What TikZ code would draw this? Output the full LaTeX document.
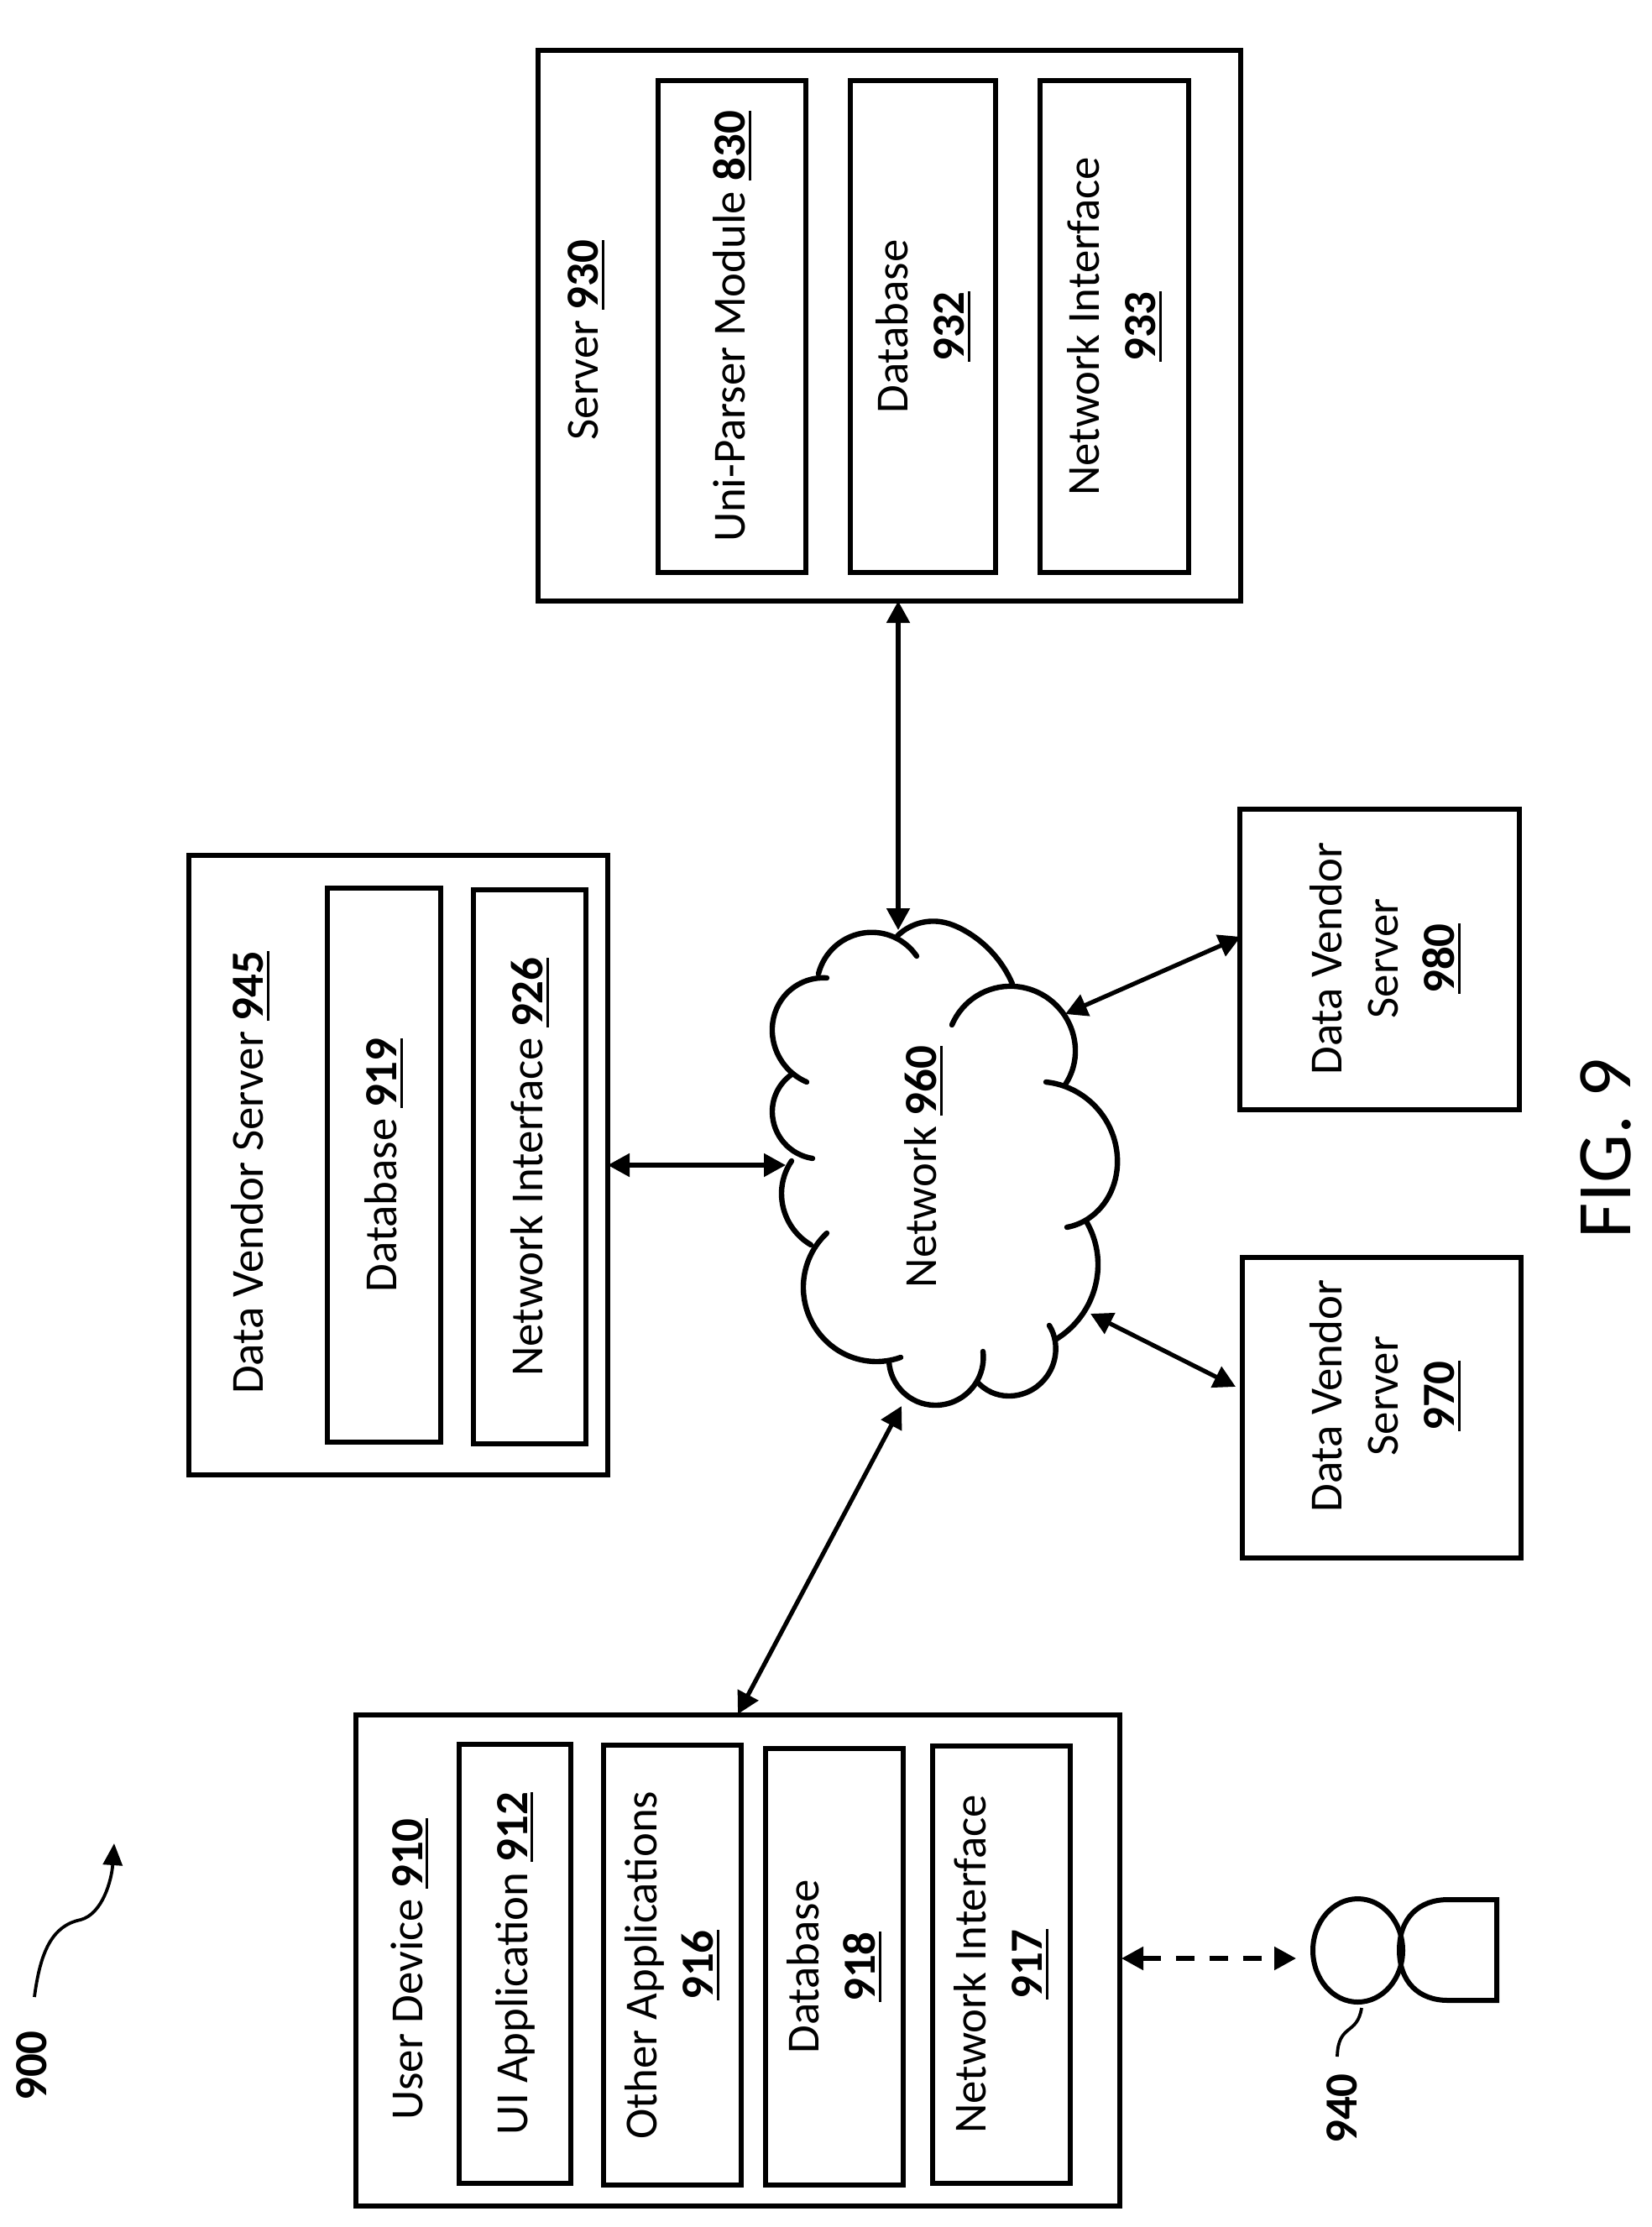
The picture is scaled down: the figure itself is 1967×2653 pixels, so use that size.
\documentclass[tikz,border=0pt]{standalone}
\usepackage{fontspec}
\setmainfont{Carlito}
\usetikzlibrary{arrows.meta,shapes.geometric,hobby}
\newcommand{\refnum}[1]{\leavevmode\setbox0=\hbox{\textbf{#1}}\rlap{\rule[-3.6pt]{\wd0}{1.5pt}}\box0}
\tikzset{
  base/.style={font=\fontsize{27.4pt}{33.5pt}\selectfont, align=center, inner sep=0pt, outer sep=0pt},
  boxsize/.style 2 args={minimum width=#1*0.5pt, minimum height=#2*0.5pt},
  block/.style={rectangle, draw=black, line width=3pt, rotate=90, base},
  txt/.style={rotate=90, base},
  arrow/.style={{Triangle[length=13pt,width=13.5pt]}-{Triangle[length=13pt,width=13.5pt]}, line width=2.6pt, black},
  lead/.style={line width=1.9pt, black},
  cloudline/.style={line width=3.2pt, black, line cap=round, use Hobby shortcut}
}
\begin{document}
\begin{tikzpicture}[x=0.5pt, y=-0.5pt]
    \useasboundingbox (0,0) rectangle (1967,2653);

    \node[block, boxsize={656}{837}] (server) at (1059.5,388) {};
    \node[txt] (serverTitle) at (698,405) {Server \refnum{930}};
    \node[block, boxsize={586}{176}] (uniparser) at (872,389) {Uni-Parser Module \refnum{830}};
    \node[block, boxsize={586}{173}] (db932) at (1099.5,389) {Database\\\refnum{932}};
    \node[block, boxsize={586}{177}] (ni933) at (1327.5,389) {Network Interface\\\refnum{933}};

    \node[block, boxsize={738}{499}] (vendor) at (474.5,1388) {};
    \node[txt] (vendorTitle) at (298,1397) {Data Vendor Server \refnum{945}};
    \node[block, boxsize={660}{135}] (db919) at (457.5,1388) {Database \refnum{919}};
    \node[block, boxsize={660}{134}] (ni926) at (631,1390) {Network Interface \refnum{926}};

    \node[block, boxsize={358}{333}] (dv980) at (1643.5,1143) {};
    \node[txt] (dv980Text) at (1650,1142) {Data Vendor\\Server\\\refnum{980}};
    \node[block, boxsize={358}{332}] (dv970) at (1646,1677) {};
    \node[txt] (dv970Text) at (1650,1663) {Data Vendor\\Server\\\refnum{970}};

    \node[block, boxsize={585}{910}] (user) at (879,2335) {};
    \node[txt] (userTitle) at (488,2346) {User Device \refnum{910}};
    \node[block, boxsize={523}{133}] (uiapp) at (613.5,2339) {UI Application \refnum{912}};
    \node[block, boxsize={524}{164}] (otherapps) at (801,2341) {Other Applications\\\refnum{916}};
    \node[block, boxsize={520}{164}] (db918) at (994,2343) {Database\\\refnum{918}};
    \node[block, boxsize={521}{164}] (ni917) at (1193,2340) {Network Interface\\\refnum{917}};

    \node[txt] (network) at (1100,1390) {Network \refnum{960}};
    \draw[cloudline] (1092,1139)..(1032,1111)..(975,1160);
    \draw[cloudline] (985,1165)..(934,1187)..(920,1230)..(961,1289);
    \draw[cloudline] (943,1280)..(920,1325)..(968,1380);
    \draw[cloudline] (943,1383)..(931,1421)..(966,1483);
    \draw[cloudline] (985,1469)..(957,1536)..(1004,1612)..(1073,1617);
    \draw[cloudline] (1059,1622)..(1113,1674)..(1171,1610);
    \draw[cloudline] (1164,1646)..(1201,1663)..(1257,1598)..(1250,1579);
    \draw[cloudline] (1257,1596)..(1308,1507)..(1294,1455);
    \draw[cloudline] (1271,1462)..(1296,1452)..(1331,1378)..(1268,1294)..(1246,1289);
    \draw[cloudline] (1269,1292)..(1281,1249)..(1208,1175)..(1134,1221);
    \draw[cloudline] (1206,1172)..(1148,1108)..(1120,1098)..(1069,1115);

    \coordinate (netTop) at (1070,1108);
    \coordinate (netLeft) at (936,1388);
    \coordinate (netUpper) at (1269,1208);
    \coordinate (netLower) at (1299,1565);
    \coordinate (netBottom) at (1074,1675);
    \coordinate (dv980Port) at (1478,1116);
    \coordinate (dv970Port) at (1472,1652);
    \coordinate (userPort) at (879,2042);
    \coordinate (userSide) at (1336,2333);
    \coordinate (personPort) at (1544,2333);

    \draw[arrow] (server.west -| netTop) -- (netTop);
    \draw[arrow] (vendor.south |- netLeft) -- (netLeft);
    \draw[arrow] (dv980Port) -- (netUpper);
    \draw[arrow] (dv970Port) -- (netLower);
    \draw[arrow] (userPort) -- (netBottom);
    \draw[arrow, dash pattern=on 11pt off 9pt] (userSide) -- (personPort);

    \node[ellipse, draw=black, line width=3pt, inner sep=0pt, boxsize={107}{123}] (head) at (1617.5,2323.5) {};
    \coordinate (bodyLeft) at (1667,2323);
    \draw[line width=3pt] (bodyLeft) .. controls (1667,2285) and (1690,2263) .. (1725,2263) -- (1783,2263) -- (1783,2383) -- (1725,2383) .. controls (1690,2383) and (1667,2361) .. (bodyLeft) -- cycle;

    \node[txt] (label940) at (1599,2512) {\textbf{940}};
    \coordinate (lead940) at (1622,2392);
    \coordinate (lead940b) at (1593,2450);
    \draw[lead] (lead940) .. controls (1617,2425) and (1594,2410) .. (lead940b);

    \node[txt] (label900) at (38,2461) {\textbf{900}};
    \coordinate (lead900) at (41,2379);
    \coordinate (lead900m) at (96,2287);
    \coordinate (lead900b) at (136,2196);
    \draw[lead, -{Triangle[length=13pt,width=11.5pt]}] (lead900) .. controls (48,2325) and (62,2294) .. (lead900m) .. controls (122,2280) and (133,2240) .. (lead900b);

    \node[txt, font=\fontsize{46pt}{50pt}\selectfont] (fig) at (1913,1368) {FIG. 9};
\end{tikzpicture}
\end{document}
